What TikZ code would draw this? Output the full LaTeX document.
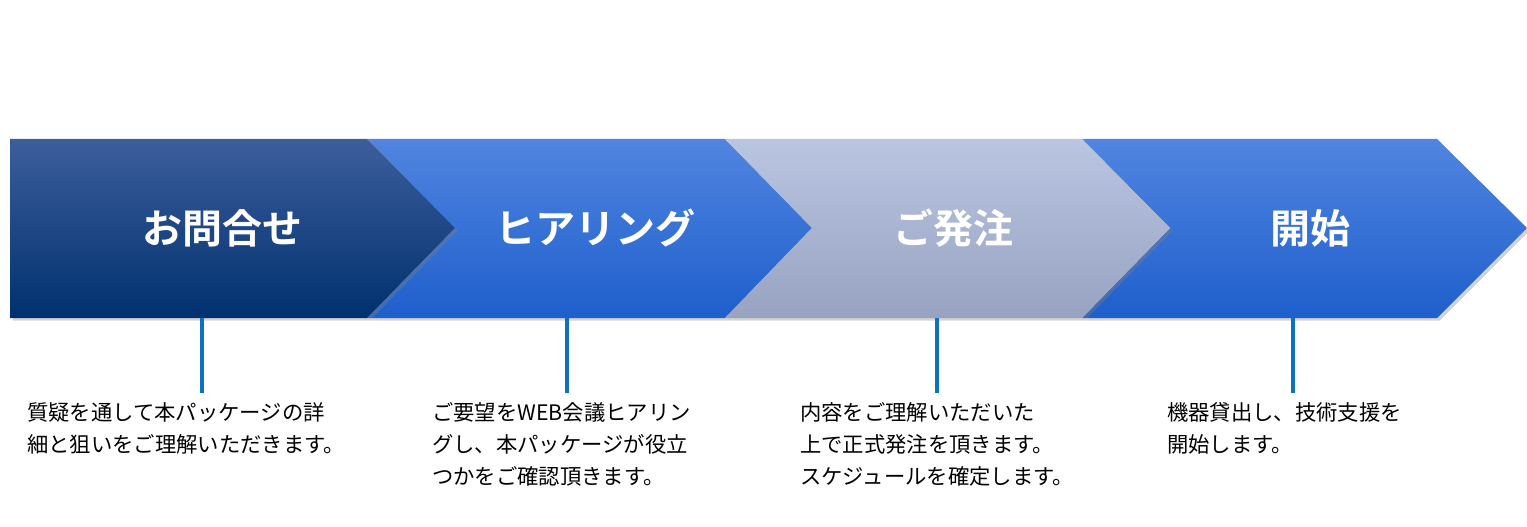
\documentclass[tikz,border=0pt]{standalone}
\usepackage{fontspec}
\setmainfont{Noto Sans CJK JP}
\newfontfamily\jpbold{Noto Sans CJK JP Bold}
\usetikzlibrary{positioning, shadows}
\definecolor{navytop}{HTML}{3D5E9C}
\definecolor{navybot}{HTML}{00306E}
\definecolor{bluetop}{HTML}{5185E0}
\definecolor{bluebot}{HTML}{1E5FCC}
\definecolor{greytop}{HTML}{BAC5E2}
\definecolor{greybot}{HTML}{97A3C0}
\definecolor{stemblue}{HTML}{1070C0}
\tikzstyle{chevron}=[drop shadow={shadow xshift=2pt, shadow yshift=-2pt, opacity=0.35}]
\tikzstyle{stage}=[text=white, font=\jpbold\fontsize{30pt}{34pt}\selectfont]
\tikzstyle{stem}=[draw=stemblue, line width=2.4pt]
\tikzstyle{note}=[anchor=north west, align=left, inner sep=0pt, font=\fontsize{16pt}{24pt}\selectfont]
\begin{document}
\begin{tikzpicture}[x=0.75pt, y=-0.75pt]
		\useasboundingbox (0,0) rectangle (1527,527);
		% Draw the chevrons
		\shade[chevron, top color=bluetop, bottom color=bluebot] (367,139) -- (725,139) -- (812,228) -- (725,318) -- (367,318) -- (455,228) -- cycle;
		\shade[chevron, top color=bluetop, bottom color=bluebot] (1082,139) -- (1437,139) -- (1527,228) -- (1437,318) -- (1082,318) -- (1170,228) -- cycle;
		\shade[chevron, top color=greytop, bottom color=greybot] (725,139) -- (1082,139) -- (1170,228) -- (1082,318) -- (725,318) -- (812,228) -- cycle;
		\shade[chevron, top color=navytop, bottom color=navybot] (10,139) -- (367,139) -- (455,228) -- (367,318) -- (10,318) -- cycle;

		% Stage titles
		\node[stage] (S-1) at (222,228) {お問合せ};
		\node[stage] (S-2) at (595,228) {ヒアリング};
		\node[stage] (S-3) at (953,228) {ご発注};
		\node[stage] (S-4) at (1310,228) {開始};

		% Stems and notes
		\foreach \name / \x in {1/202, 2/567, 3/937, 4/1293} {
			\coordinate (T-\name) at (\x,318);
			\coordinate (B-\name) at (\x,393);
			\draw[stem] (T-\name) -- (B-\name);
		}
		\node[note] (N-1) at (27,402) {質疑を通して本パッケージの詳\\細と狙いをご理解いただきます。};
		\node[note] (N-2) at (432,402) {ご要望をWEB会議ヒアリン\\グし、本パッケージが役立\\つかをご確認頂きます。};
		\node[note] (N-3) at (800,402) {内容をご理解いただいた\\上で正式発注を頂きます。\\スケジュールを確定します。};
		\node[note] (N-4) at (1167,402) {機器貸出し、技術支援を\\開始します。};
	\end{tikzpicture}
\end{document}
